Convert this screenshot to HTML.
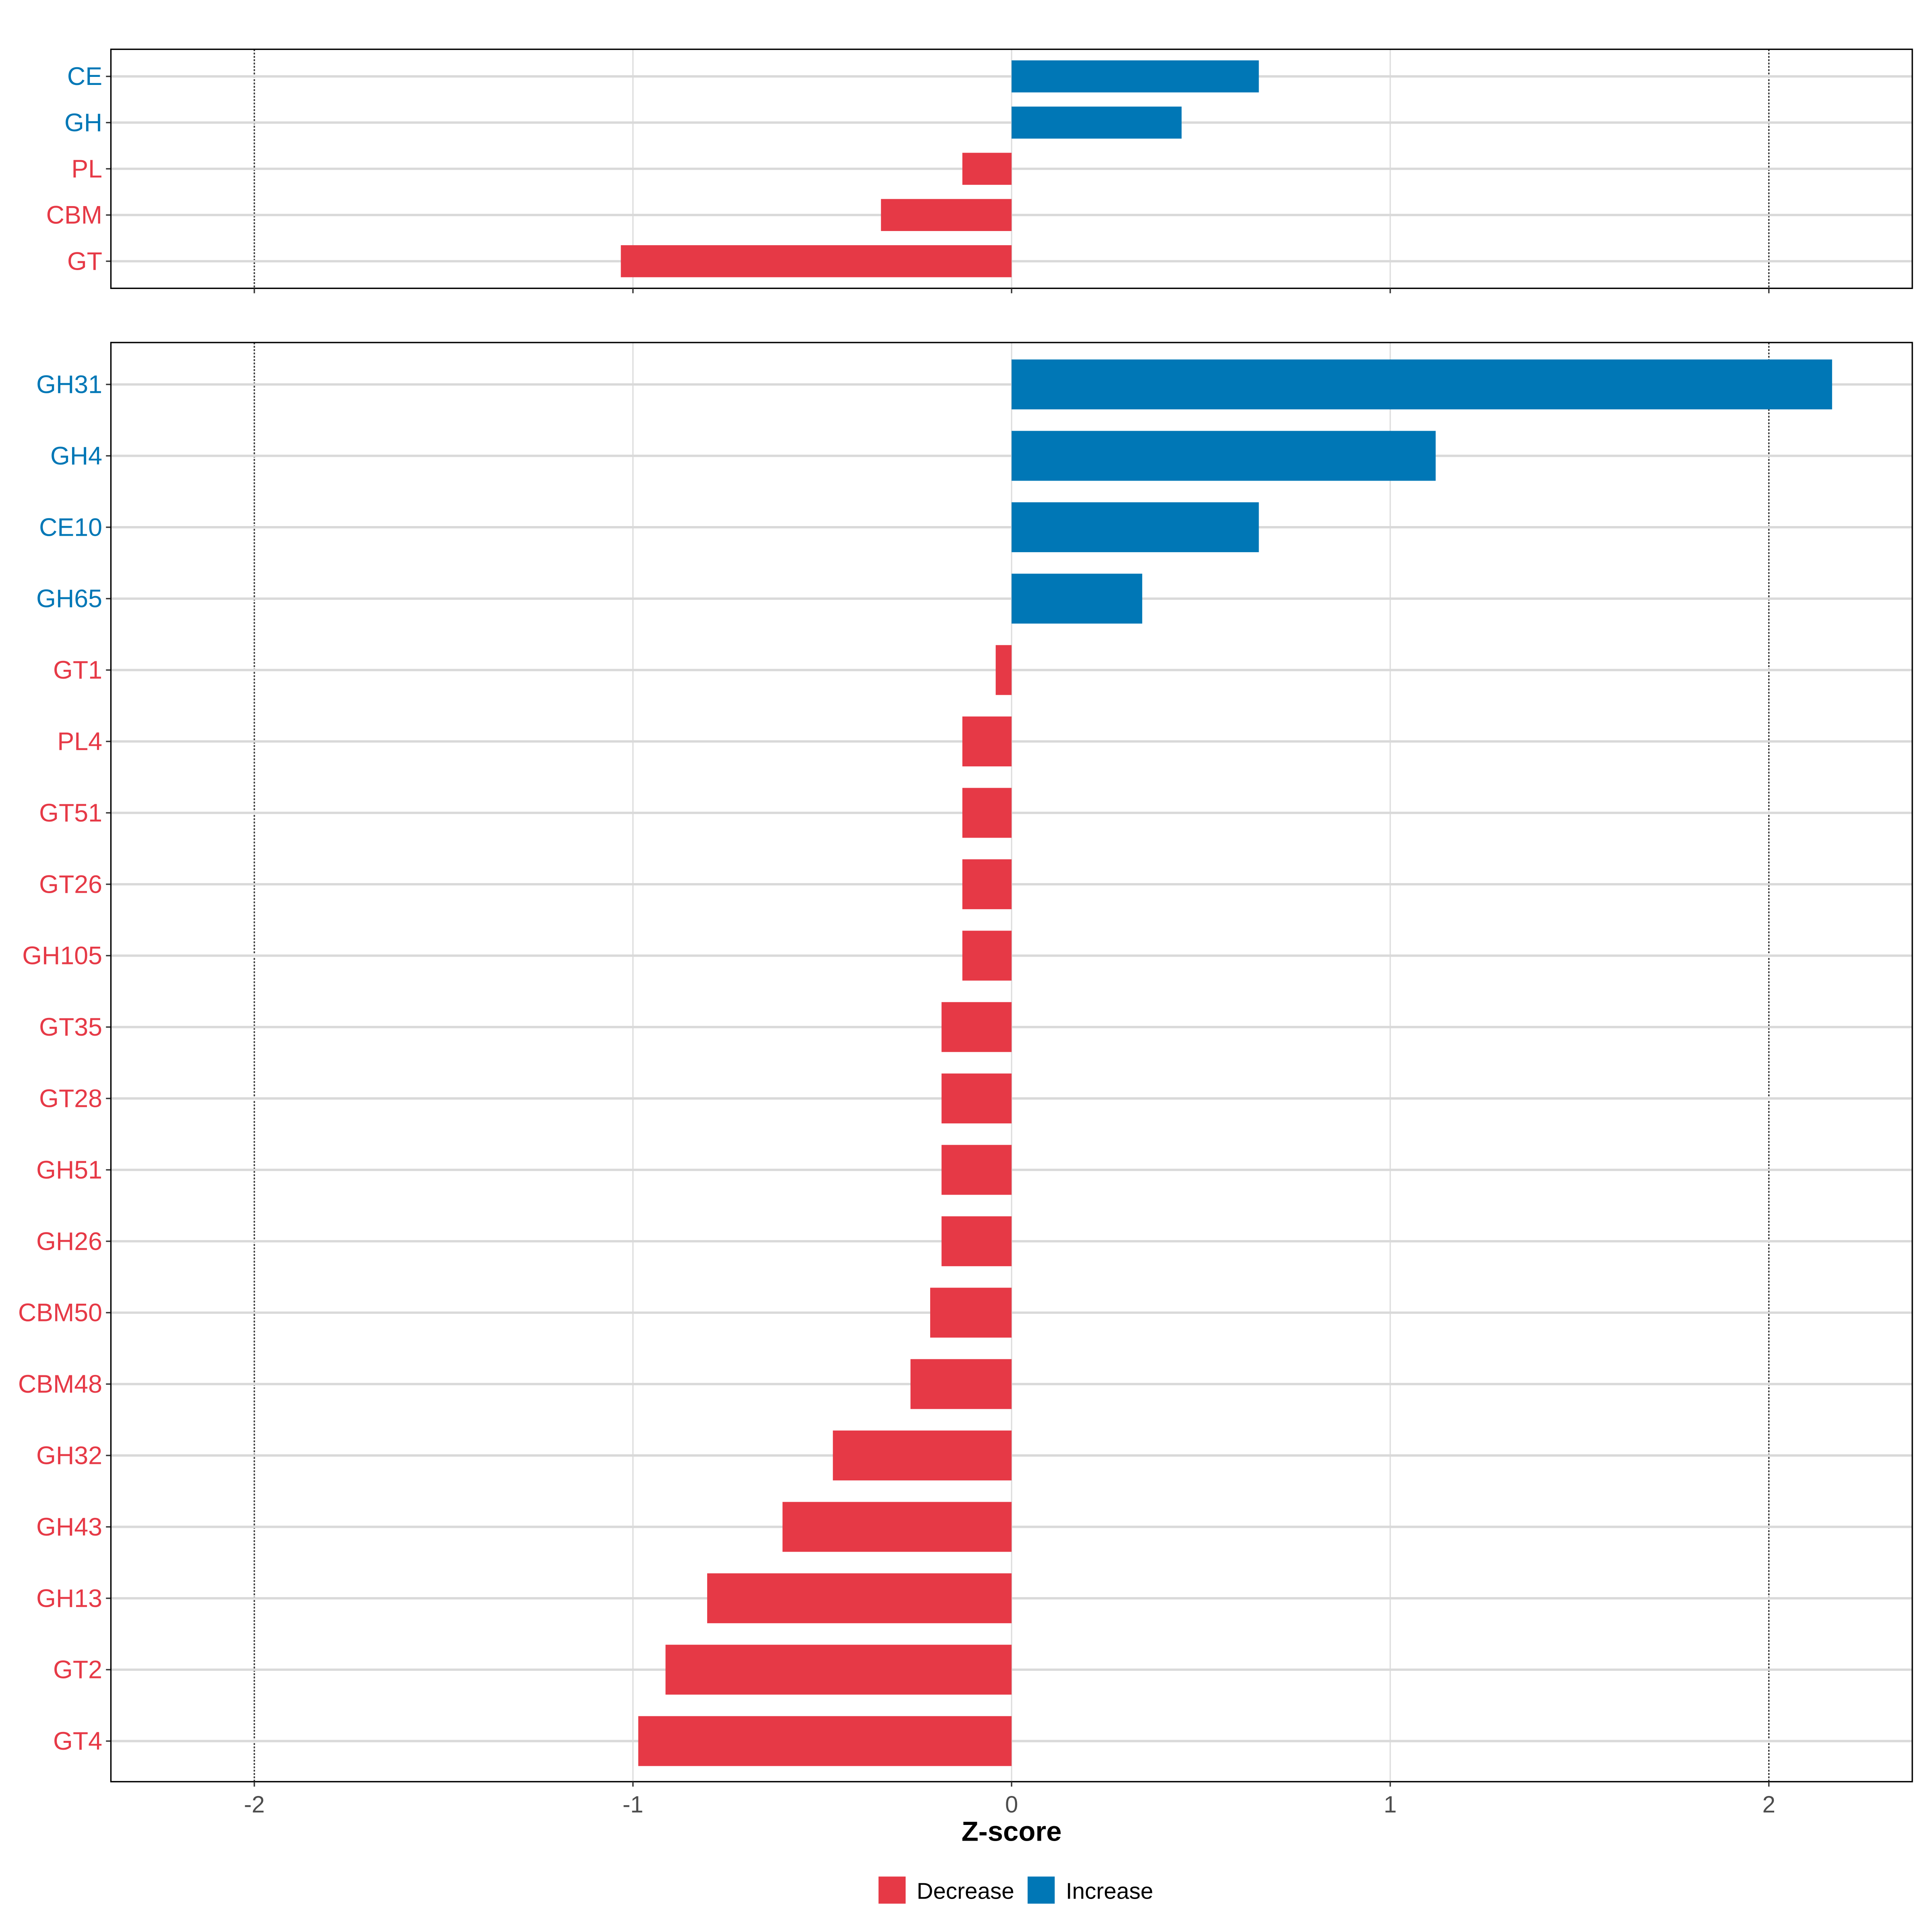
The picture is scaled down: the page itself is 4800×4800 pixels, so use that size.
<!DOCTYPE html>
<html><head><meta charset="utf-8"><style>
html,body{margin:0;padding:0;background:#fff}
svg{display:block}
text{font-family:"Liberation Sans",Arial,sans-serif}
</style></head><body>
<svg id="chart" width="4800" height="4800" viewBox="0 0 1568 1568" xmlns="http://www.w3.org/2000/svg">
<rect x="0" y="0" width="1568" height="1568" fill="#fff"/>
<g id="top"></g>
<g id="bot"></g>
<g id="xaxis"></g>
<text x="821" y="1494" font-size="22.5" font-weight="bold" text-anchor="middle" fill="#000">Z-score</text>
<g>
<rect x="713" y="1523" width="22" height="22" fill="#E63946"/>
<text x="744" y="1541" font-size="18.5" fill="#000">Decrease</text>
<rect x="834" y="1523" width="22" height="22" fill="#0077B6"/>
<text x="865" y="1541" font-size="18.5" fill="#000">Increase</text>
</g>
</svg>
<script>
const topCategories = ["CE","GH","PL","CBM","GT"];
const topValues = [0.653, 0.449, -0.13, -0.345, -1.032];
const botCategories = ["GH31","GH4","CE10","GH65","GT1","PL4","GT51","GT26","GH105","GT35","GT28","GH51","GH26","CBM50","CBM48","GH32","GH43","GH13","GT2","GT4"];
const botValues = [2.167, 1.12, 0.653, 0.345, -0.042, -0.13, -0.13, -0.13, -0.13, -0.185, -0.185, -0.185, -0.185, -0.215, -0.267, -0.472, -0.605, -0.804, -0.914, -0.986];
const xTicks = [-2, -1, 0, 1, 2];
const xTickLabels = ["-2","-1","0","1","2"];

const NS = "http://www.w3.org/2000/svg";
const X0 = 821, XU = 307.3, PL = 90, PR = 1552;
function xs(v){ return X0 + v*XU; }
function mk(tag, attrs, parent){ const e=document.createElementNS(NS,tag); for(const k in attrs) e.setAttribute(k,attrs[k]); parent.appendChild(e); return e; }
const RED="#E63946", BLUE="#0077B6";

function panel(g, cats, vals, top, bottom, firstY, step, barH, name){
  const bg = mk("rect",{x:PL,y:top,width:PR-PL,height:bottom-top,fill:"#fff"},g);
  
  
  xTicks.forEach(t=>{
    if(Math.abs(t)===2){
      const l = mk("line",{x1:xs(t),x2:xs(t),y1:top,y2:bottom,stroke:"#333",'stroke-width':1.1,'stroke-dasharray':"1.5,1.2"},g);
      
      
    } else {
      const l = mk("line",{x1:xs(t),x2:xs(t),y1:top,y2:bottom,stroke:"#dcdcdc",'stroke-width':1},g);
      
      
    }
  });
  cats.forEach((c,i)=>{
    const y = firstY + i*step;
    const gl = mk("line",{x1:PL,x2:PR,y1:y,y2:y,stroke:"#d9d9d9",'stroke-width':1.9},g);
    
    
  });
  cats.forEach((c,i)=>{
    const y = firstY + i*step;
    const v = vals[i];
    const col = v>=0?BLUE:RED;
    const b = mk("rect",{x:Math.min(xs(0),xs(v)),y:y-barH/2,width:Math.abs(xs(v)-xs(0)),height:barH,fill:col},g);
    
    
    const tk = mk("line",{x1:PL-4,x2:PL,y1:y,y2:y,stroke:"#333",'stroke-width':1.1},g);
    
    
    const t = mk("text",{x:PL-7,y:y+7,'font-size':20.5,'text-anchor':"end",fill:col},g);
    t.textContent = c;
    
    
  });
  const bd = mk("rect",{x:PL,y:top,width:PR-PL,height:bottom-top,fill:"none",stroke:"#000",'stroke-width':1.1},g);
  
  
  xTicks.forEach(t=>{
    const l = mk("line",{x1:xs(t),x2:xs(t),y1:bottom,y2:bottom+4,stroke:"#333",'stroke-width':1.1},g);
    
    
  });
}
panel(document.getElementById("top"), topCategories, topValues, 40, 234, 62, 37.5, 26, "top-panel");
panel(document.getElementById("bot"), botCategories, botValues, 278, 1446, 312, 57.95, 40.5, "bottom-panel");
const xa = document.getElementById("xaxis");
xTicks.forEach((t,i)=>{
  const tx = mk("text",{x:xs(t),y:1471,'font-size':19,'text-anchor':"middle",fill:"#4d4d4d"},xa);
  tx.textContent = xTickLabels[i];
  
  
});
</script>
</body></html>
